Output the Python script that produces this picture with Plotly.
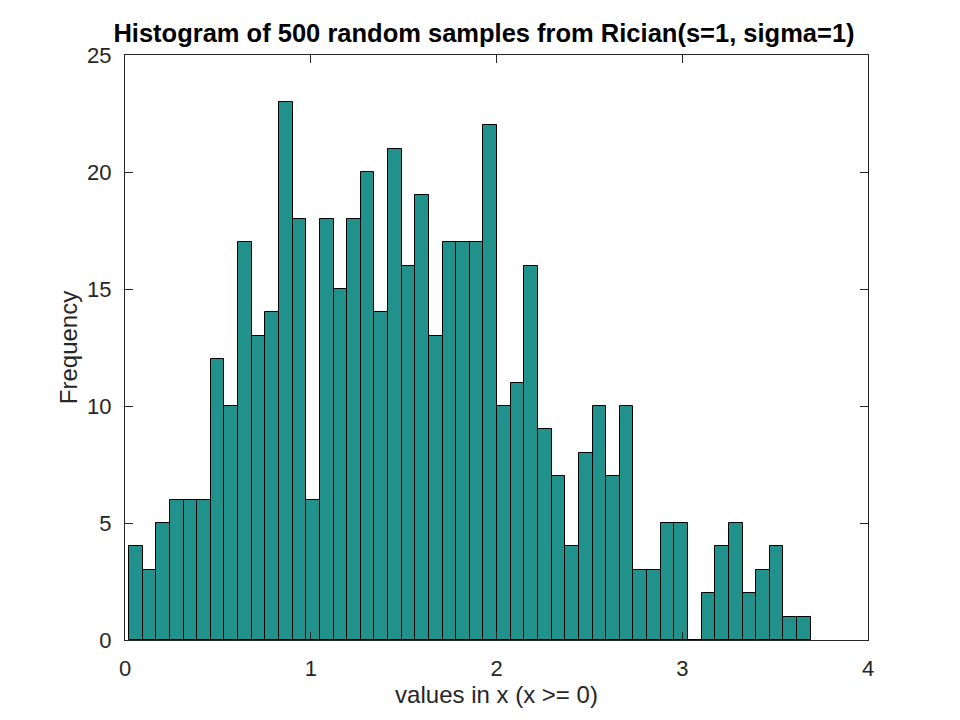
import numpy as np
import plotly.graph_objects as go

# Histogram data (50 bins)
counts = [4, 3, 5, 6, 6, 6, 12, 10, 17, 13,
          14, 23, 18, 6, 18, 15, 18, 20, 14, 21,
          16, 19, 13, 17, 17, 17, 22, 10, 11, 16,
          9, 7, 4, 8, 10, 7, 10, 3, 3, 5,
          5, 0, 2, 4, 5, 2, 3, 4, 1, 1]
bin_start = 0.0215
bin_width = 0.0734

centers = bin_start + bin_width * (np.arange(len(counts)) + 0.5)

title_text = "Histogram of 500 random samples from Rician(s=1, sigma=1)"
xlabel = "values in x (x >= 0)"
ylabel = "Frequency"
xticks = [0, 1, 2, 3, 4]
yticks = [0, 5, 10, 15, 20, 25]

fig = go.Figure(go.Bar(
    x=centers, y=counts, width=bin_width,
    marker=dict(color="#21918C", line=dict(color="black", width=1)),
    showlegend=False,
))

font = "Liberation Sans, Arial, sans-serif"
axis_common = dict(showline=True, linecolor="#262626", linewidth=1, mirror="ticks",
                   ticks="inside", ticklen=8, tickcolor="#262626", showgrid=False,
                   zeroline=False, tickfont=dict(size=22, color="#262626", family=font))

fig.update_layout(
    width=952, height=712,
    margin=dict(l=117, r=92, t=47, b=80),
    paper_bgcolor="white", plot_bgcolor="white",
    bargap=0,
    title=dict(text="<b>" + title_text + "</b>", x=0.5, xanchor="center",
               y=1 - 25 / 712, yanchor="middle",
               font=dict(size=25.5, color="black", family=font)),
    xaxis=dict(range=[0, 4], tickvals=xticks, ticktext=[str(t) for t in xticks],
               ticklabelstandoff=9,
               title=dict(text=xlabel, font=dict(size=24, color="#262626", family=font), standoff=4),
               **axis_common),
    yaxis=dict(range=[0, 25], tickvals=yticks, ticktext=[str(t) for t in yticks],
               ticklabelstandoff=8,
               title=dict(text=ylabel, font=dict(size=24, color="#262626", family=font), standoff=2),
               **axis_common),
)

fig.write_html("out.html")
